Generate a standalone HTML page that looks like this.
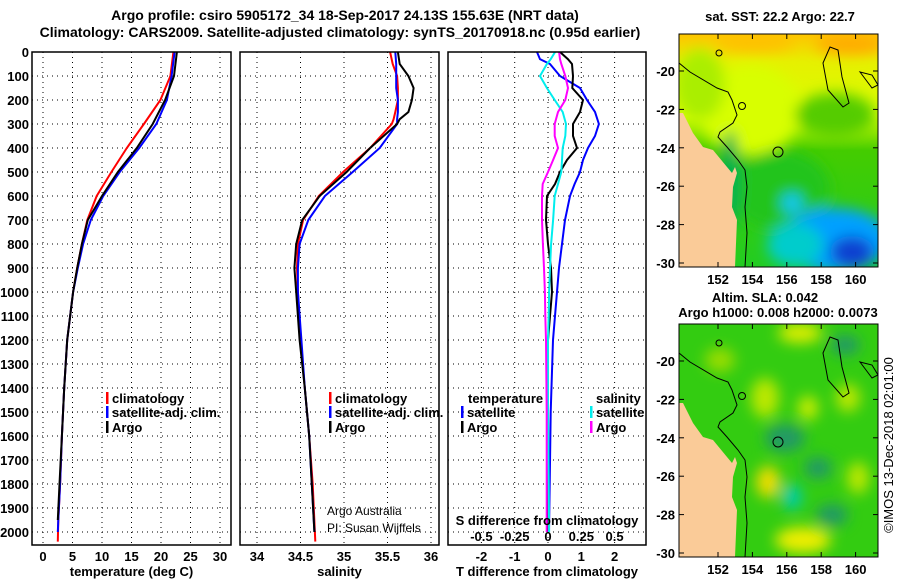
<!DOCTYPE html>
<html><head><meta charset="utf-8"><style>
body{margin:0;background:#fff;}
svg{display:block;font-family:"Liberation Sans",sans-serif;}
.b{font-weight:bold;font-size:13px;}
.t{font-weight:bold;font-size:14px;}
</style></head><body>
<svg id="s" width="900" height="580" viewBox="0 0 900 580" xmlns="http://www.w3.org/2000/svg">
<defs>
<filter id="bl" x="-20%" y="-20%" width="140%" height="140%"><feGaussianBlur stdDeviation="7"/></filter>
<clipPath id="c1"><rect x="679" y="34" width="199" height="233"/></clipPath>
<clipPath id="c2"><rect x="679" y="324" width="199" height="233"/></clipPath>
<clipPath id="p1"><rect x="32" y="52" width="199" height="493"/></clipPath>
<clipPath id="p2"><rect x="240" y="52" width="199" height="493"/></clipPath>
<clipPath id="p3"><rect x="448" y="52" width="198" height="493"/></clipPath>
<linearGradient id="g1" x1="0" y1="0" x2="0" y2="1">
<stop offset="0" stop-color="#ffc400"/><stop offset="0.12" stop-color="#e6f000"/><stop offset="0.35" stop-color="#d8ff00"/><stop offset="0.5" stop-color="#44cc00"/><stop offset="1" stop-color="#22cc22"/></linearGradient>
</defs>
<text class="t" x="345" y="20" text-anchor="middle">Argo profile: csiro 5905172_34 18-Sep-2017 24.13S 155.63E (NRT data)</text>
<text class="t" x="340" y="37" text-anchor="middle">Climatology: CARS2009. Satellite-adjusted climatology: synTS_20170918.nc (0.95d earlier)</text>
<g id="charts"></g>
<!-- map 1 -->
<g>
<text class="b" x="780" y="21" text-anchor="middle">sat. SST: 22.2 Argo: 22.7</text>
<g clip-path="url(#c1)">
<rect x="679" y="34" width="199" height="233" fill="url(#g1)"/>
<g filter="url(#bl)">
<ellipse cx="750" cy="110" rx="50" ry="45" fill="#d8ff00"/>
<ellipse cx="700" cy="85" rx="25" ry="35" fill="#aaee00"/>
<ellipse cx="835" cy="115" rx="40" ry="22" fill="#55cc00"/>
<ellipse cx="780" cy="190" rx="50" ry="40" fill="#22c41a"/>
<ellipse cx="835" cy="240" rx="55" ry="32" fill="#00a0ff"/>
<ellipse cx="795" cy="245" rx="28" ry="22" fill="#00cccc"/>
<ellipse cx="792" cy="203" rx="10" ry="9" fill="#00c8ff"/>
<ellipse cx="852" cy="252" rx="22" ry="16" fill="#1040d0"/>
<ellipse cx="850" cy="44" rx="35" ry="10" fill="#ffaa00"/>
<ellipse cx="755" cy="42" rx="40" ry="9" fill="#ffc000"/>
<ellipse cx="730" cy="180" rx="10" ry="50" fill="#00b050"/>
</g>
<path d="M679,113 L683,113 L693,133 L703,147 L713,150 L727,167 L732,173 L735,167 L737,173 L733,187 L732,207 L737,220 L735,267 L679,267Z" fill="#facb98"/>
<path d="M679,63 L690,72 L717,88 L728,92 L732,100 L737,115 L733,123 L720,132 L718,137 L727,147 L738,160 L745,170 L747,187 L745,207 L747,233 L745,267" fill="none" stroke="#000" stroke-width="1"/>
<path d="M823,63 L830,47 L838,50 L842,77 L849,103 L843,107 L828,90Z" fill="none" stroke="#000"/>
<path d="M860,72 L872,75 L878,85 L872,88 L866,80Z" fill="none" stroke="#000"/>
<circle cx="719" cy="53" r="3" fill="none" stroke="#000"/>
<circle cx="742" cy="106" r="3.5" fill="none" stroke="#000"/>
<circle cx="778" cy="152" r="5" fill="none" stroke="#000"/>
</g>
<rect x="679" y="34" width="199" height="233" fill="none" stroke="#000"/>
</g>
<!-- map 2 -->
<g>
<text class="b" x="765" y="302" text-anchor="middle">Altim. SLA: 0.042</text>
<text class="b" x="778" y="317" text-anchor="middle">Argo h1000: 0.008 h2000: 0.0073</text>
<g clip-path="url(#c2)">
<rect x="679" y="324" width="199" height="233" fill="#33cc11"/>
<g filter="url(#bl)">
<ellipse cx="800" cy="333" rx="22" ry="10" fill="#ddee00"/>
<ellipse cx="765" cy="398" rx="14" ry="20" fill="#bbe800"/>
<ellipse cx="808" cy="408" rx="10" ry="12" fill="#ccee00"/>
<ellipse cx="848" cy="398" rx="12" ry="14" fill="#bbe800"/>
<ellipse cx="720" cy="360" rx="15" ry="12" fill="#99dd00"/>
<ellipse cx="785" cy="438" rx="20" ry="14" fill="#229966"/>
<ellipse cx="818" cy="468" rx="14" ry="11" fill="#229966"/>
<ellipse cx="768" cy="482" rx="12" ry="16" fill="#eedd00"/>
<ellipse cx="792" cy="497" rx="10" ry="13" fill="#00ccaa"/>
<ellipse cx="803" cy="540" rx="28" ry="13" fill="#eeee00"/>
<ellipse cx="858" cy="478" rx="11" ry="16" fill="#bbe800"/>
<ellipse cx="832" cy="515" rx="16" ry="11" fill="#229966"/>
<ellipse cx="845" cy="345" rx="15" ry="10" fill="#229966"/>
</g>
<path d="M679,403 L683,403 L693,423 L703,437 L713,440 L727,457 L732,463 L735,457 L737,463 L733,477 L732,497 L737,510 L735,557 L679,557Z" fill="#facb98"/>
<path d="M679,353 L690,362 L717,378 L728,382 L732,390 L737,405 L733,413 L720,422 L718,427 L727,437 L738,450 L745,460 L747,477 L745,497 L747,523 L745,557" fill="none" stroke="#000"/>
<path d="M823,353 L830,337 L838,340 L842,367 L849,393 L843,397 L828,380Z" fill="none" stroke="#000"/>
<path d="M860,362 L872,365 L878,375 L872,378 L866,370Z" fill="none" stroke="#000"/>
<circle cx="719" cy="343" r="3" fill="none" stroke="#000"/>
<circle cx="742" cy="396" r="3.5" fill="none" stroke="#000"/>
<circle cx="778" cy="442" r="5" fill="none" stroke="#000"/>
</g>
<rect x="679" y="324" width="199" height="233" fill="none" stroke="#000"/>
</g>
<text transform="translate(893,445) rotate(-90)" text-anchor="middle" style="font-size:13px">©IMOS 13-Dec-2018 02:01:00</text>
<g id="mapaxes"></g>
</svg>
<script>
// ---- data ----
const depthT = [0,100,200,300,400,500,600,700,800,900,1000,1200,1400,1600,1800,1950,2000];
const tempArgo = [22.7,22.2,20.7,18.6,15.9,12.7,10.0,7.6,6.6,5.8,5.1,4.1,3.6,3.2,2.8,2.5,2.5];
const tempClim = [22.1,21.6,19.9,17.1,14.2,11.6,9.1,7.5,6.6,5.8,5.1,4.1,3.6,3.2,2.9,2.6,2.5];
const tempSat  = [22.3,21.8,21.0,19.2,16.3,13.0,10.2,8.1,6.8,5.9,5.1,4.1,3.6,3.2,2.9,2.6,2.5];
const depthS = [0,50,100,150,200,250,280,300,400,500,600,700,800,900,1000,1200,1400,1600,1800,2000];
const salArgo = [35.62,35.64,35.74,35.80,35.78,35.74,35.64,35.61,35.30,35.03,34.72,34.52,34.45,34.43,34.45,34.49,34.55,34.60,34.63,34.66];
const salClim = [35.53,35.56,35.61,35.62,35.62,35.59,35.57,35.55,35.30,34.99,34.71,34.53,34.47,34.46,34.47,34.50,34.55,34.60,34.64,34.67];
const salSat  = [35.59,35.60,35.60,35.60,35.62,35.62,35.61,35.61,35.41,35.10,34.78,34.59,34.49,34.47,34.47,34.51,34.55,34.60,34.63,34.66];
const depthD = [0,30,50,100,150,200,250,300,350,400,450,500,550,600,700,800,900,1000,1100,1200,1500,1800,2000];
const dTsat  = [-0.33,-0.24,0.06,0.36,0.96,1.17,1.41,1.53,1.41,1.20,1.05,0.96,0.80,0.66,0.51,0.42,0.33,0.27,0.21,0.15,0.08,0.05,0.03];
const dTargo = [0.36,0.60,0.72,0.75,0.73,1.05,0.96,0.75,0.75,0.87,0.57,0.36,0.21,-0.03,-0.06,0.0,0.09,0.12,0.06,0.0,0.0,-0.02,-0.03];
const dSsat  = [0.053,0.02,-0.008,-0.06,-0.008,0.05,0.11,0.135,0.13,0.11,0.105,0.10,0.075,0.05,0.038,0.023,0.015,0.008,0.005,0.0,0.0,0.005,0.008];
const dSargo = [0.083,0.09,0.10,0.13,0.15,0.13,0.075,0.05,0.05,0.075,0.038,0.0,-0.04,-0.045,-0.045,-0.038,-0.03,-0.023,-0.02,-0.015,-0.01,-0.01,-0.01];
const depthTicks = [0,100,200,300,400,500,600,700,800,900,1000,1100,1200,1300,1400,1500,1600,1700,1800,1900,2000];
const tempTicks = [0,5,10,15,20,25,30];
const salTicks = [34,34.5,35,35.5,36];
const salTickLabels = ['34','34.5','35','35.5','36'];
const dTTicks = [-2,-1,0,1,2];
const dSTicks = [-0.5,-0.25,0,0.25,0.5];
const dSTickLabels = ['-0.5','-0.25','0','0.25','0.5'];
const latTicks = [-20,-22,-24,-26,-28,-30];
const lonTicks = [152,154,156,158,160];

const NS='http://www.w3.org/2000/svg';
const Y = d => 52 + d*0.24;
const xT = v => 43 + v*5.9;
const xS = v => 257 + (v-34)*87;
const xD = v => 548 + v*33.3;
const xDS = v => 548 + v*133.2;
const G = document.getElementById('charts');
function mk(tag, at, parent){const e=document.createElementNS(NS,tag);for(const k in at)e.setAttribute(k,at[k]);(parent||G).appendChild(e);return e;}

function panel(x0,x1,xs,ticks,labels,xlabel,name){
  const g=mk('g',{});
  
  
  ticks.forEach(t=>{mk('line',{x1:xs(t),x2:xs(t),y1:52,y2:545,stroke:'#000','stroke-dasharray':'1,4'},g);});
  depthTicks.forEach(d=>{mk('line',{x1:x0,x2:x1,y1:Y(d),y2:Y(d),stroke:'#000','stroke-dasharray':'1,4'},g);});
  ticks.forEach((t,i)=>{const tx=mk('text',{x:xs(t),y:561,'text-anchor':'middle',class:'b'},g);tx.textContent=labels[i];
    
    });
  const xl=mk('text',{x:(x0+x1)/2,y:576,'text-anchor':'middle',class:'b'},g);xl.textContent=xlabel;
  
  
  return g;
}
function line(xs,vals,depths,color,name,clip,w){
  const pts=vals.map((v,i)=>xs(v).toFixed(1)+','+Y(depths[i]).toFixed(1)).join(' ');
  const p=mk('polyline',{points:pts,fill:'none',stroke:color,'stroke-width':w||2,'clip-path':'url(#'+clip+')'});
  
  
}
function box(x0,x1){mk('rect',{x:x0,y:52,width:x1-x0,height:493,fill:'none',stroke:'#000','stroke-width':1.5});}
function leg(x,y,color,label){
  mk('rect',{x:x,y:y-11,width:2.5,height:12,fill:color});
  const t=mk('text',{x:x+6,y:y,class:'b'});t.textContent=label;
  
  
}

panel(32,231,xT,tempTicks,tempTicks.map(String),'temperature (deg C)','temperature-panel');
depthTicks.forEach(d=>{const t=mk('text',{x:29,y:Y(d)+5,'text-anchor':'end',class:'b'});t.textContent=d;
  
  });
line(xT,tempClim,depthT.map((d,i)=>i==depthT.length-1?2040:d),'#f00','temp-climatology-line','p1');
line(xT,tempSat,depthT,'#00f','temp-satellite-line','p1');
line(xT,tempArgo,depthT.slice(0,16),'#000','temp-argo-line','p1');
box(32,231);
leg(106,403,'#f00','climatology');leg(106,417,'#00f','satellite-adj. clim.');leg(106,432,'#000','Argo');

panel(240,439,xS,salTicks,salTickLabels,'salinity','salinity-panel');
line(xS,salClim,depthS.map((d,i)=>i==depthS.length-1?2040:d),'#f00','sal-climatology-line','p2');
line(xS,salSat,depthS,'#00f','sal-satellite-line','p2');
line(xS,salArgo,depthS,'#000','sal-argo-line','p2');
box(240,439);
leg(329,403,'#f00','climatology');leg(329,417,'#00f','satellite-adj. clim.');leg(329,432,'#000','Argo');
{const t=mk('text',{x:327,y:515,'font-size':'12'});t.textContent='Argo Australia';
 
 
 const t2=mk('text',{x:327,y:532,'font-size':'12'});t2.textContent='PI: Susan Wijffels';
 
 }

panel(448,646,xD,dTTicks,dTTicks.map(String),'T difference from climatology','difference-panel');
line(xD,dTsat,depthD,'#00f','t-diff-satellite-line','p3');
line(xD,dTargo,depthD,'#000','t-diff-argo-line','p3');
line(xDS,dSsat,depthD,'#0ee','s-diff-satellite-line','p3');
line(xDS,dSargo,depthD,'#f0f','s-diff-argo-line','p3');
box(448,646);
{const t=mk('text',{x:468,y:403,class:'b'});t.textContent='temperature';
 
 
 const t2=mk('text',{x:596,y:403,class:'b'});t2.textContent='salinity';
 
 }
leg(461,417,'#00f','satellite');leg(461,432,'#000','Argo');
leg(590,417,'#0ee','satellite');leg(590,432,'#f0f','Argo');
{const t=mk('text',{x:547,y:525,'text-anchor':'middle',class:'b'});t.textContent='S difference from climatology';
 
 }
dSTicks.forEach((v,i)=>{const t=mk('text',{x:xDS(v),y:541,'text-anchor':'middle',class:'b'});t.textContent=dSTickLabels[i];
 
 });

const M=document.getElementById('mapaxes');
const lonX = l => 718 + (l-152)*17.2;
const latY = (l,top) => top + 37 + (-20-l)*19.2;
[34,324].forEach(top=>{
  latTicks.forEach(l=>{
    mk('line',{x1:679,x2:684,y1:latY(l,top),y2:latY(l,top),stroke:'#000'},M);
    mk('line',{x1:873,x2:878,y1:latY(l,top),y2:latY(l,top),stroke:'#000'},M);
    const t=mk('text',{x:675,y:latY(l,top)+5,'text-anchor':'end',class:'b'},M);t.textContent=l;
    
    
  });
  lonTicks.forEach(l=>{
    mk('line',{x1:lonX(l),x2:lonX(l),y1:top+228,y2:top+233,stroke:'#000'},M);
    mk('line',{x1:lonX(l),x2:lonX(l),y1:top,y2:top+5,stroke:'#000'},M);
    const t=mk('text',{x:lonX(l),y:top+250,'text-anchor':'middle',class:'b'},M);t.textContent=l;
    
    
  });
});
</script>
</body></html>
